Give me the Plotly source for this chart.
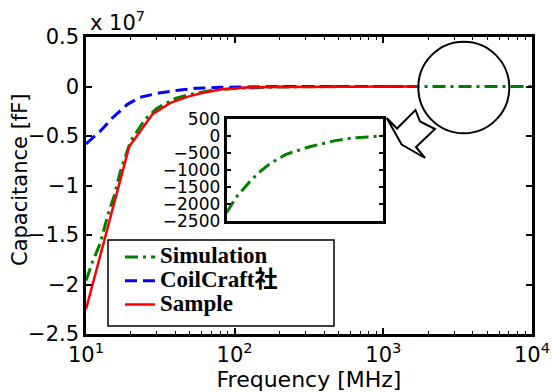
import plotly.graph_objects as go

# ---------------- data ----------------
sim_freq = [10, 11, 12.5, 14, 15.5, 17, 20, 25, 30, 40, 50, 70, 100, 200, 500,
            1000, 1150, 1400, 1600, 1900, 2400, 3400, 4800, 6500, 8000, 10000]
sim_cap = [-1.96e7, -1.78e7, -1.58e7, -1.30e7, -1.10e7, -0.86e7, -0.55e7, -0.33e7,
           -0.22e7, -0.12e7, -0.08e7, -0.04e7, -0.02e7, -5.0e4, -9.0e3,
           -2250, -1800, -1350, -1080, -810, -540, -315, -150, -55, -20, 0]

coil_freq = [10, 12.5, 15, 19, 23, 31, 43, 55, 80, 120, 200, 500, 1660]
coil_cap = [-0.58e7, -0.45e7, -0.32e7, -0.18e7, -0.11e7, -0.066e7, -0.035e7,
            -0.018e7, -0.008e7, -0.003e7, -0.001e7, -0.0002e7, 0]

samp_freq = [10, 19.5, 28, 37, 48, 60, 80, 120, 200, 500, 1000, 1660]
samp_cap = [-2.25e7, -0.61e7, -0.28e7, -0.165e7, -0.105e7, -0.065e7, -0.03e7,
            -0.01e7, -0.004e7, -0.001e7, -0.0003e7, 0]

series_names = ["Simulation", "CoilCraft社", "Sample"]
inset_min_freq = 1000

x_tickvals = [10, 100, 1000, 10000]
x_ticktext = ["10<sup>1</sup>", "10<sup>2</sup>", "10<sup>3</sup>", "10<sup>4</sup>"]
x_minor = [m * d for d in (10, 100, 1000) for m in range(2, 10)]
y_tickvals = [-2.5e7, -2e7, -1.5e7, -1e7, -0.5e7, 0, 0.5e7]
y_ticktext = ["\u22122.5", "\u22122", "\u22121.5", "\u22121", "\u22120.5", "0", "0.5"]
inset_ytickvals = [-2500, -2000, -1500, -1000, -500, 0, 500]
inset_yticktext = ["\u22122500", "\u22122000", "\u22121500", "\u22121000", "\u2212500", "0", "500"]

# ---------------- layout geometry (pixels) ----------------
W, H = 552, 392
L, R, T, B = 86, 20, 37, 58
PW, PH = W - L - R, H - T - B


def px(x):
    return (x - L) / PW


def py(y):
    return (H - B - y) / PH


GREEN, BLUE, RED = "#008000", "#0000ff", "#ff0000"
DASHDOT = "13px,5px,3px,5px"
SANS = "DejaVu Sans, Liberation Sans, Arial, sans-serif"
SERIF = "Liberation Serif, Times New Roman, Noto Sans CJK JP, serif"


def legend_label(s):
    return f'<span style="font-size:23px">{s}</span>'


fig = go.Figure()
fig.add_trace(go.Scatter(x=sim_freq, y=sim_cap, mode="lines", name=legend_label(series_names[0]),
                         line=dict(color=GREEN, width=3, dash=DASHDOT)))
fig.add_trace(go.Scatter(x=coil_freq, y=coil_cap, mode="lines", name=legend_label(series_names[1]),
                         line=dict(color=BLUE, width=3, dash="12px,6px")))
fig.add_trace(go.Scatter(x=samp_freq, y=samp_cap, mode="lines", name=legend_label(series_names[2]),
                         line=dict(color=RED, width=2.5)))

ins_f = [f for f in sim_freq if f >= inset_min_freq]
ins_c = [c for f, c in zip(sim_freq, sim_cap) if f >= inset_min_freq]
fig.add_trace(go.Scatter(x=ins_f, y=ins_c, mode="lines", showlegend=False,
                         xaxis="x2", yaxis="y2",
                         line=dict(color=GREEN, width=3, dash=DASHDOT)))

tick_font = dict(family=SANS, size=21, color="black")

fig.update_layout(
    width=W, height=H,
    margin=dict(l=L, r=R, t=T, b=B, autoexpand=False),
    paper_bgcolor="white", plot_bgcolor="white",
    xaxis=dict(type="log", range=[1, 4], tickmode="array", tickvals=x_tickvals,
               ticktext=x_ticktext, ticks="inside", ticklen=6, tickwidth=1.5,
               tickcolor="black", showline=True, linecolor="black", linewidth=2.5,
               mirror="ticks", showgrid=False, zeroline=False, tickfont=tick_font,
               minor=dict(tickvals=x_minor, ticks="inside", ticklen=3,
                          tickcolor="black", tickwidth=1.2, showgrid=False),
               title=dict(text="Frequency [MHz]", standoff=2,
                          font=dict(family=SANS, size=22, color="black")),
               domain=[0, 1]),
    yaxis=dict(range=[-2.5e7, 0.5e7], tickmode="array", tickvals=y_tickvals,
               ticktext=y_ticktext, ticks="inside", ticklen=6, tickwidth=1.5,
               tickcolor="black", showline=True, linecolor="black", linewidth=2.5,
               mirror="ticks", showgrid=False, zeroline=False, tickfont=tick_font,
               domain=[0, 1]),
    xaxis2=dict(type="log", range=[3, 4], domain=[px(226.7), px(382.7)],
                anchor="y2", showticklabels=False, ticks="", showline=True,
                linecolor="black", linewidth=3, mirror=True, showgrid=False,
                zeroline=False),
    yaxis2=dict(range=[-2500, 500], domain=[py(221), py(119)], anchor="x2",
                tickmode="array", tickvals=inset_ytickvals, ticktext=inset_yticktext,
                ticks="inside", ticklen=4, tickwidth=1.5, tickcolor="black",
                showline=True, linecolor="black", linewidth=3, mirror="ticks",
                showgrid=False, zeroline=False,
                tickfont=dict(family=SANS, size=17, color="black")),
    legend=dict(x=px(120), y=py(240), xanchor="left", yanchor="top",
                bgcolor="rgba(0,0,0,0)", borderwidth=0,
                font=dict(family=SERIF, size=16, color="black", weight="bold"),
                tracegroupgap=0),
    showlegend=True,
)

# y-axis title (placed as rotated text beside the tick labels)
fig.add_annotation(text="Capacitance [fF]", xref="paper", yref="paper",
                   x=px(20), y=py(180), xanchor="center", yanchor="middle",
                   textangle=-90, showarrow=False,
                   font=dict(family=SANS, size=21, color="black"))

# legend frame
fig.add_shape(type="rect", xref="paper", yref="paper",
              x0=px(108), x1=px(334), y0=py(326), y1=py(240),
              line=dict(color="black", width=1.5), fillcolor="white", layer="above")

# exponent label
fig.add_annotation(text="x 10<sup>7</sup>", xref="paper", yref="paper",
                   x=px(88), y=py(21), xanchor="left", yanchor="middle",
                   showarrow=False, font=dict(family=SANS, size=21, color="black"))

# magnifier circle
fig.add_shape(type="circle", xref="paper", yref="paper",
              x0=px(418.3), x1=px(509.3), y0=py(133.3), y1=py(41.7),
              line=dict(color="black", width=2))

# callout block arrow (decoration, pixel outline)
arrow_px = [(386.7, 118), (397, 128.5), (415.5, 110), (420, 121.5), (435, 129),
            (416, 147), (425, 158), (401.7, 144.5)]
path = "M " + " L ".join(f"{px(x):.4f},{py(y):.4f}" for x, y in arrow_px) + " Z"
fig.add_shape(type="path", xref="paper", yref="paper", path=path,
              line=dict(color="black", width=2), fillcolor="rgba(0,0,0,0)")

fig.write_html("out.html", config={"displayModeBar": False},
               post_script="document.body.style.margin='0';"
                           "document.body.style.overflow='hidden';")
